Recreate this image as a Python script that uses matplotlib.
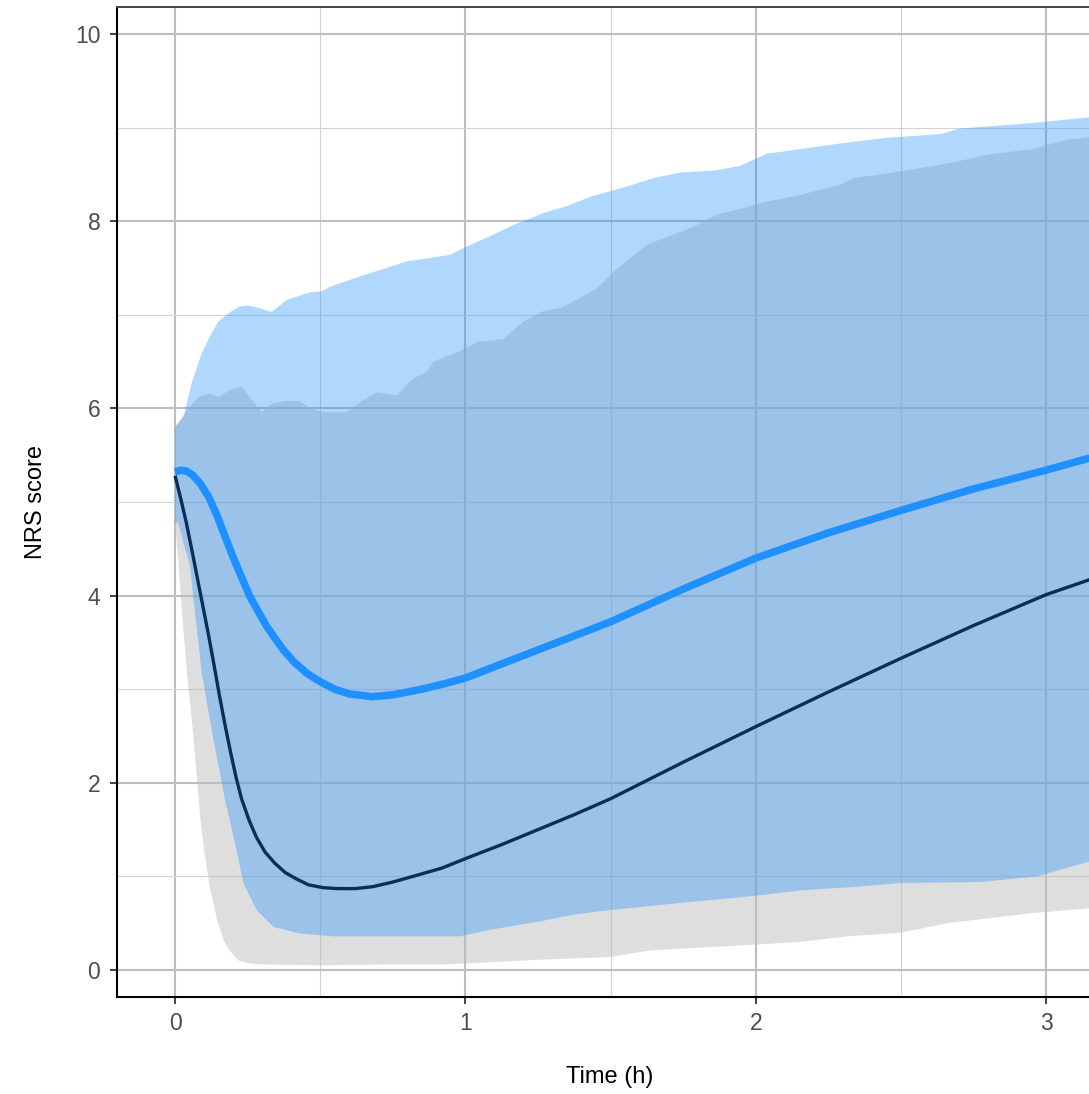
import matplotlib.pyplot as plt
from matplotlib.ticker import MultipleLocator

plt.rcParams['font.family'] = ['Liberation Sans', 'DejaVu Sans']

# smooth mean curves
t_blue = [0.00, 0.02, 0.04, 0.06, 0.086, 0.115, 0.144, 0.17, 0.20, 0.23, 0.258, 0.29,
          0.316, 0.345, 0.373, 0.41, 0.454, 0.50, 0.55, 0.60, 0.68, 0.75, 0.85, 0.93,
          1.00, 1.10, 1.25, 1.50, 1.75, 2.00, 2.25, 2.50, 2.75, 3.00, 3.15]
nrs_blue = [5.32, 5.34, 5.33, 5.29, 5.20, 5.06, 4.86, 4.65, 4.41, 4.19, 3.99, 3.81,
            3.67, 3.54, 3.42, 3.29, 3.17, 3.08, 3.00, 2.95, 2.92, 2.94, 3.00, 3.06,
            3.12, 3.24, 3.42, 3.72, 4.07, 4.40, 4.67, 4.91, 5.14, 5.34, 5.47]

t_dark = [0.00, 0.02, 0.038, 0.057, 0.076, 0.095, 0.114, 0.133, 0.153, 0.172, 0.191,
          0.21, 0.229, 0.255, 0.28, 0.31, 0.344, 0.38, 0.42, 0.46, 0.51, 0.56, 0.62,
          0.68, 0.75, 0.83, 0.92, 1.00, 1.125, 1.25, 1.375, 1.50, 1.75, 2.00, 2.25,
          2.50, 2.75, 3.00, 3.15]
nrs_dark = [5.28, 5.03, 4.79, 4.50, 4.20, 3.90, 3.60, 3.28, 2.93, 2.62, 2.33,
            2.06, 1.83, 1.60, 1.42, 1.26, 1.14, 1.04, 0.97, 0.91, 0.88, 0.87, 0.87,
            0.89, 0.94, 1.01, 1.09, 1.19, 1.34, 1.50, 1.66, 1.83, 2.22, 2.60, 2.97,
            3.33, 3.68, 4.01, 4.17]

# grey band (around dark curve)
t_grey_hi = [0.00, 0.034, 0.08, 0.12, 0.149, 0.19, 0.23, 0.264, 0.298, 0.333, 0.385,
             0.43, 0.465, 0.511, 0.59, 0.649, 0.695, 0.764, 0.821, 0.867, 0.89, 0.98,
             1.04, 1.131, 1.20, 1.269, 1.326, 1.395, 1.453, 1.51, 1.567, 1.625, 1.694,
             1.786, 1.866, 1.946, 2.038, 2.153, 2.291, 2.337, 2.451, 2.635, 2.727,
             2.796, 2.956, 3.071, 3.15]
grey_hi = [5.80, 5.95, 6.12, 6.16, 6.12, 6.20, 6.23, 6.09, 5.96, 6.05, 6.08,
           6.08, 6.00, 5.96, 5.96, 6.09, 6.17, 6.14, 6.32, 6.39, 6.50, 6.61,
           6.71, 6.74, 6.93, 7.04, 7.07, 7.18, 7.28, 7.46, 7.60, 7.75, 7.83,
           7.94, 8.07, 8.13, 8.21, 8.28, 8.39, 8.46, 8.51, 8.60, 8.66,
           8.71, 8.77, 8.87, 8.90]
t_grey_lo = [0.00, 0.01, 0.02, 0.028, 0.04, 0.057, 0.07, 0.086, 0.10, 0.12, 0.146,
             0.17, 0.19, 0.22, 0.26, 0.30, 0.50, 0.75, 0.913, 1.00, 1.257, 1.50,
             1.636, 1.99, 2.153, 2.314, 2.503, 2.658, 2.956, 3.00, 3.15]
grey_lo = [4.78, 4.40, 4.00, 3.65, 3.20, 2.70, 2.25, 1.65, 1.28, 0.88, 0.52,
           0.30, 0.20, 0.10, 0.07, 0.06, 0.05, 0.06, 0.06, 0.07, 0.11, 0.14,
           0.21, 0.27, 0.30, 0.36, 0.40, 0.50, 0.61, 0.62, 0.66]

# blue band (around blue curve)
t_blue_hi = [0.00, 0.029, 0.057, 0.092, 0.12, 0.149, 0.19, 0.224, 0.252, 0.293, 0.333,
             0.385, 0.465, 0.505, 0.534, 0.637, 0.798, 0.947, 1.005, 1.085, 1.166,
             1.28, 1.349, 1.43, 1.51, 1.556, 1.648, 1.74, 1.855, 1.946, 2.038, 2.153,
             2.291, 2.451, 2.635, 2.704, 2.956, 3.15]
blue_hi = [5.80, 5.91, 6.27, 6.59, 6.77, 6.93, 7.03, 7.09, 7.10, 7.07, 7.03,
           7.16, 7.24, 7.25, 7.30, 7.41, 7.57, 7.64, 7.73, 7.84, 7.96,
           8.10, 8.16, 8.26, 8.33, 8.37, 8.46, 8.52, 8.54, 8.59, 8.72, 8.77,
           8.83, 8.89, 8.93, 8.99, 9.05, 9.11]
t_blue_lo = [0.00, 0.011, 0.052, 0.069, 0.092, 0.13, 0.172, 0.212, 0.235, 0.281, 0.339,
             0.43, 0.545, 0.775, 0.98, 1.085, 1.257, 1.371, 1.44, 1.50, 1.75, 1.99,
             2.153, 2.348, 2.503, 2.773, 2.968, 3.15]
blue_lo = [4.78, 4.77, 4.31, 3.81, 3.17, 2.50, 1.82, 1.28, 0.93, 0.64, 0.46,
           0.39, 0.36, 0.36, 0.36, 0.43, 0.52, 0.59, 0.62, 0.64, 0.72, 0.79,
           0.85, 0.89, 0.93, 0.94, 1.00, 1.16]

fig = plt.figure(figsize=(10.89, 10.94), dpi=100)
ax = fig.add_axes([117/1089, 1 - 997/1094, 1 - 117/1089, 990/1094])

ax.fill(t_grey_hi + t_grey_lo[::-1], grey_hi + grey_lo[::-1],
        color='#BEBEBE', alpha=0.5, lw=0)
ax.fill(t_blue_hi + t_blue_lo[::-1], blue_hi + blue_lo[::-1],
        color='dodgerblue', alpha=0.35, lw=0)
ax.plot(t_blue, nrs_blue, color='dodgerblue', lw=5.4, solid_capstyle='butt')
ax.plot(t_dark, nrs_dark, color='#0B2E59', lw=2.4, solid_capstyle='butt')

ax.set_xlim(-0.2, 3.148)
ax.set_ylim(-0.288, 10.288)
ax.xaxis.set_major_locator(MultipleLocator(1))
ax.xaxis.set_minor_locator(MultipleLocator(0.5))
ax.yaxis.set_major_locator(MultipleLocator(2))
ax.yaxis.set_minor_locator(MultipleLocator(1))

ax.set_axisbelow(True)
ax.grid(which='major', color='#BEBEBE', lw=1.5)
ax.grid(which='minor', color='#D2D2D2', lw=0.8)

ax.tick_params(which='major', length=5, width=1.3, color='#333333',
               labelcolor='#4D4D4D', labelsize=16.5)
ax.tick_params(axis='y', pad=7)
ax.tick_params(axis='x', pad=6)
ax.tick_params(which='minor', length=0)

ax.spines['right'].set_visible(False)
ax.spines['top'].set_color('#444444')
ax.spines['top'].set_linewidth(1.4)
for s in ['left', 'bottom']:
    ax.spines[s].set_color('black')
    ax.spines[s].set_linewidth(1.5)

ax.set_xlabel('Time (h)', fontsize=17, labelpad=18)
ax.set_ylabel('NRS score', fontsize=17, labelpad=20)
ax.xaxis.set_label_coords(0.507, -0.07)

plt.savefig('out.png', dpi=100)
